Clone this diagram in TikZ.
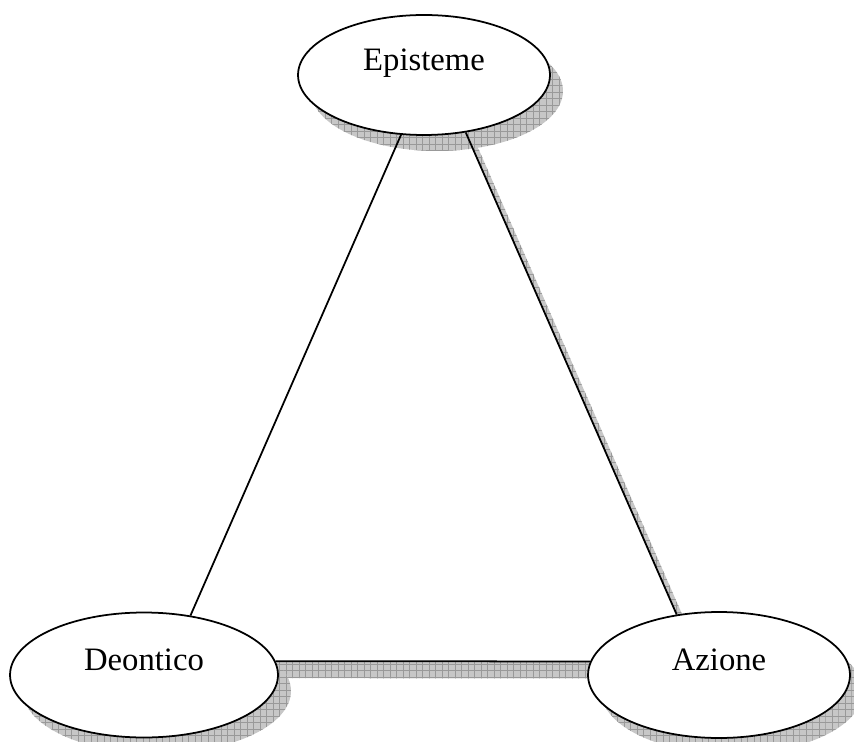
\documentclass[tikz,border=0pt]{standalone}
\usepackage{fontspec}
\setmainfont{Liberation Serif}
\usetikzlibrary{shapes.geometric, shadows, patterns.meta, backgrounds}
\colorlet{shadowGray}{black!22}
\colorlet{gridGray}{black!40}
\tikzdeclarepattern{
  name=coarsegrid,
  type=uncolored,
  bottom left={(-.2pt,-.2pt)},
  top right={(3.9pt,3.9pt)},
  tile size={(3.7pt,3.7pt)},
  code={\draw[line width=0.4pt] (0pt,0pt) -- (3.7pt,0pt) (0pt,0pt) -- (0pt,3.7pt);}
}

\begin{document}
\begin{tikzpicture}[x=0.02cm, y=-0.02cm,
    bubble/.style={ellipse, draw, line width=1pt, fill=white, inner sep=0pt,
      text height=0.4cm, text depth=0.58cm, font=\fontsize{18.6}{20}\selectfont,
      drop shadow={shadow xshift=0.26cm, shadow yshift=-0.32cm, opacity=1, fill=shadowGray},
      drop shadow={shadow xshift=0.26cm, shadow yshift=-0.32cm, opacity=1, pattern=coarsegrid, pattern color=gridGray}},
    hatch/.style={fill=shadowGray, postaction={pattern=coarsegrid, pattern color=gridGray}},
    link/.style={line width=1pt}]
        \useasboundingbox (0,0) rectangle (854,742);
        \node[bubble, minimum width=5.04cm, minimum height=2.4cm] (epi) at (424,75) {Episteme};
        \node[bubble, minimum width=5.36cm, minimum height=2.5cm] (deo) at (144,675) {Deontico};
        \node[bubble, minimum width=5.24cm, minimum height=2.52cm] (azi) at (719,675) {Azione};
        % shadows of the two lower-right links
        \begin{scope}[on background layer]
          \fill[hatch] (epi.306) -- (azi.125) -- ([shift={(13,17)}]azi.125) -- ([shift={(13,17)}]epi.306) -- cycle;
          \fill[hatch] (deo.6) -- (azi.174) -- ([shift={(13,17)}]azi.174) -- ([shift={(13,17)}]deo.6) -- cycle;
        \end{scope}
        \draw[link] (epi.249) -- (deo.52);
        \draw[link] (epi.306) -- (azi.125);
        \draw[link] (deo.6) -- (azi.174);
      \end{tikzpicture}
\end{document}
